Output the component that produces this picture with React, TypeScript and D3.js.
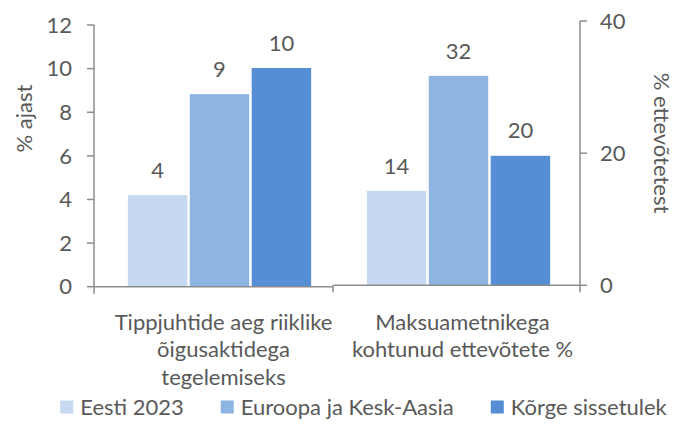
import React from "react";
import * as d3 from "d3";

const categoryLines: string[][] = [
  ["Tippjuhtide aeg riiklike", "õigusaktidega", "tegelemiseks"],
  ["Maksuametnikega", "kohtunud ettevõtete %"],
];
const categories = categoryLines.map((l) => l.join(" "));
const seriesNames = ["Eesti 2023", "Euroopa ja Kesk-Aasia", "Kõrge sissetulek"];
const seriesColors = ["#c6d9f0", "#8eb4e2", "#558ed5"];
// first category on primary axis (% ajast)
const primaryValues = [4.2, 8.83, 10.03];
// second category on secondary axis (% ettevõtetest)
const secondaryValues = [14.3, 31.7, 19.6];
const primaryTicks = [0, 2, 4, 6, 8, 10, 12];
const secondaryTicks = [0, 20, 40];
const primaryTitle = "% ajast";
const secondaryTitle = "% ettevõtetest";

const W = 681;
const H = 430;
const FONT = "Lato, 'Noto Sans', sans-serif";
const FS = 22;
const TEXT = "#595959";
const AXIS = "#8c8c8c";

function measure(text: string, size: number) {
  const c = document.createElement("canvas").getContext("2d")!;
  c.font = `${size}px Lato`;
  return c.measureText(text).width;
}

export default function App() {
  const leftX = 94;
  const rightX = 580;
  const yL = d3.scaleLinear().domain([0, 12]).range([286.7, 25]);
  const yR = d3.scaleLinear().domain([0, 40]).range([285.3, 21]);
  const x0 = d3.scaleBand<string>().domain(categories).range([100, 578]).padding(0);
  const x1 = d3
    .scaleBand<number>()
    .domain(d3.range(seriesNames.length))
    .range([0, x0.bandwidth()])
    .paddingInner(0.04)
    .paddingOuter(0.45);
  const axisBand = d3.scaleBand<string>().domain(categories).range([leftX, 572]);
  const midTick = axisBand(categories[1])!;

  const groups = [
    { cat: categories[0], values: primaryValues, y: yL },
    { cat: categories[1], values: secondaryValues, y: yR },
  ];

  // legend layout
  const sq = 13;
  const sqGap = 7;
  const itemGap = 37;
  const widths = seriesNames.map((s) => measure(s, FS));
  const total =
    widths.reduce((a, b) => a + b, 0) + seriesNames.length * (sq + sqGap) + itemGap * (seriesNames.length - 1);
  let lx = 363.5 - total / 2;
  const legendItems = seriesNames.map((s, i) => {
    const item = { x: lx, name: s, color: seriesColors[i] };
    lx += sq + sqGap + widths[i] + itemGap;
    return item;
  });
  const legendY = 407;

  return (
    <svg
      width={W}
      height={H}
      style={{ position: "absolute", left: 0, top: 0, background: "#fff" }}
      fontFamily={FONT}
    >
      {/* bars */}
      {groups.map((g) => (
        <g key={g.cat} transform={`translate(${x0(g.cat)},0)`}>
          {g.values.map((v, i) => (
            <g key={i}>
              <rect
                x={x1(i)}
                width={x1.bandwidth()}
                y={g.y(v)}
                height={g.y(0) - g.y(v)}
                fill={seriesColors[i]}
              />
              <text
                x={x1(i)! + x1.bandwidth() / 2}
                y={g.y(v) - 25}
                dy="0.35em"
                textAnchor="middle"
                fontSize={FS}
                fill={TEXT}
              >
                {Math.round(v)}
              </text>
            </g>
          ))}
        </g>
      ))}

      {/* x axis */}
      <line x1={leftX} x2={midTick} y1={yL(0)} y2={yL(0)} stroke={AXIS} strokeWidth={1.5} />
      <line x1={midTick} x2={rightX} y1={yR(0)} y2={yR(0)} stroke={AXIS} strokeWidth={1.5} />
      <line x1={midTick} x2={midTick} y1={yR(0)} y2={yR(0) + 7} stroke={AXIS} strokeWidth={1.5} />

      {/* left axis */}
      <line x1={leftX} x2={leftX} y1={yL(12)} y2={yL(0) + 7} stroke={AXIS} strokeWidth={1.5} />
      {primaryTicks.map((t) => (
        <g key={t}>
          <line x1={leftX - 7} x2={leftX} y1={yL(t)} y2={yL(t)} stroke={AXIS} strokeWidth={1.5} />
          <text x={leftX - 22} y={yL(t)} dy="0.35em" textAnchor="end" fontSize={FS} fill={TEXT}>
            {t}
          </text>
        </g>
      ))}
      <text
        transform={`translate(24,118.5) rotate(-90)`}
        textAnchor="middle"
        fontSize={FS}
        fill={TEXT}
        dy="0.35em"
      >
        {primaryTitle}
      </text>

      {/* right axis */}
      <line x1={rightX} x2={rightX} y1={yR(40)} y2={yR(0) + 7} stroke={AXIS} strokeWidth={1.5} />
      {secondaryTicks.map((t) => (
        <g key={t}>
          <line x1={rightX} x2={rightX + 7} y1={yR(t)} y2={yR(t)} stroke={AXIS} strokeWidth={1.5} />
          <text x={rightX + 20} y={yR(t)} dy="0.35em" textAnchor="start" fontSize={FS} fill={TEXT}>
            {t}
          </text>
        </g>
      ))}
      <text
        transform={`translate(662,143) rotate(90)`}
        textAnchor="middle"
        fontSize={FS}
        fill={TEXT}
        dy="0.35em"
      >
        {secondaryTitle}
      </text>

      {/* category labels */}
      {categoryLines.map((lines, ci) => {
        const cx = x0(categories[ci])! + x0.bandwidth() / 2 + 4;
        return (
          <text key={ci} textAnchor="middle" fontSize={FS} fill={TEXT} x={cx}>
            {lines.map((l, li) => (
              <tspan key={li} x={cx} y={322 + li * 27.5} dy="0.35em">
                {l}
              </tspan>
            ))}
          </text>
        );
      })}

      {/* legend */}
      {legendItems.map((it) => (
        <g key={it.name}>
          <rect x={it.x} y={legendY - sq / 2} width={sq} height={sq} fill={it.color} />
          <text x={it.x + sq + sqGap} y={legendY} dy="0.35em" fontSize={FS} fill={TEXT}>
            {it.name}
          </text>
        </g>
      ))}
    </svg>
  );
}
